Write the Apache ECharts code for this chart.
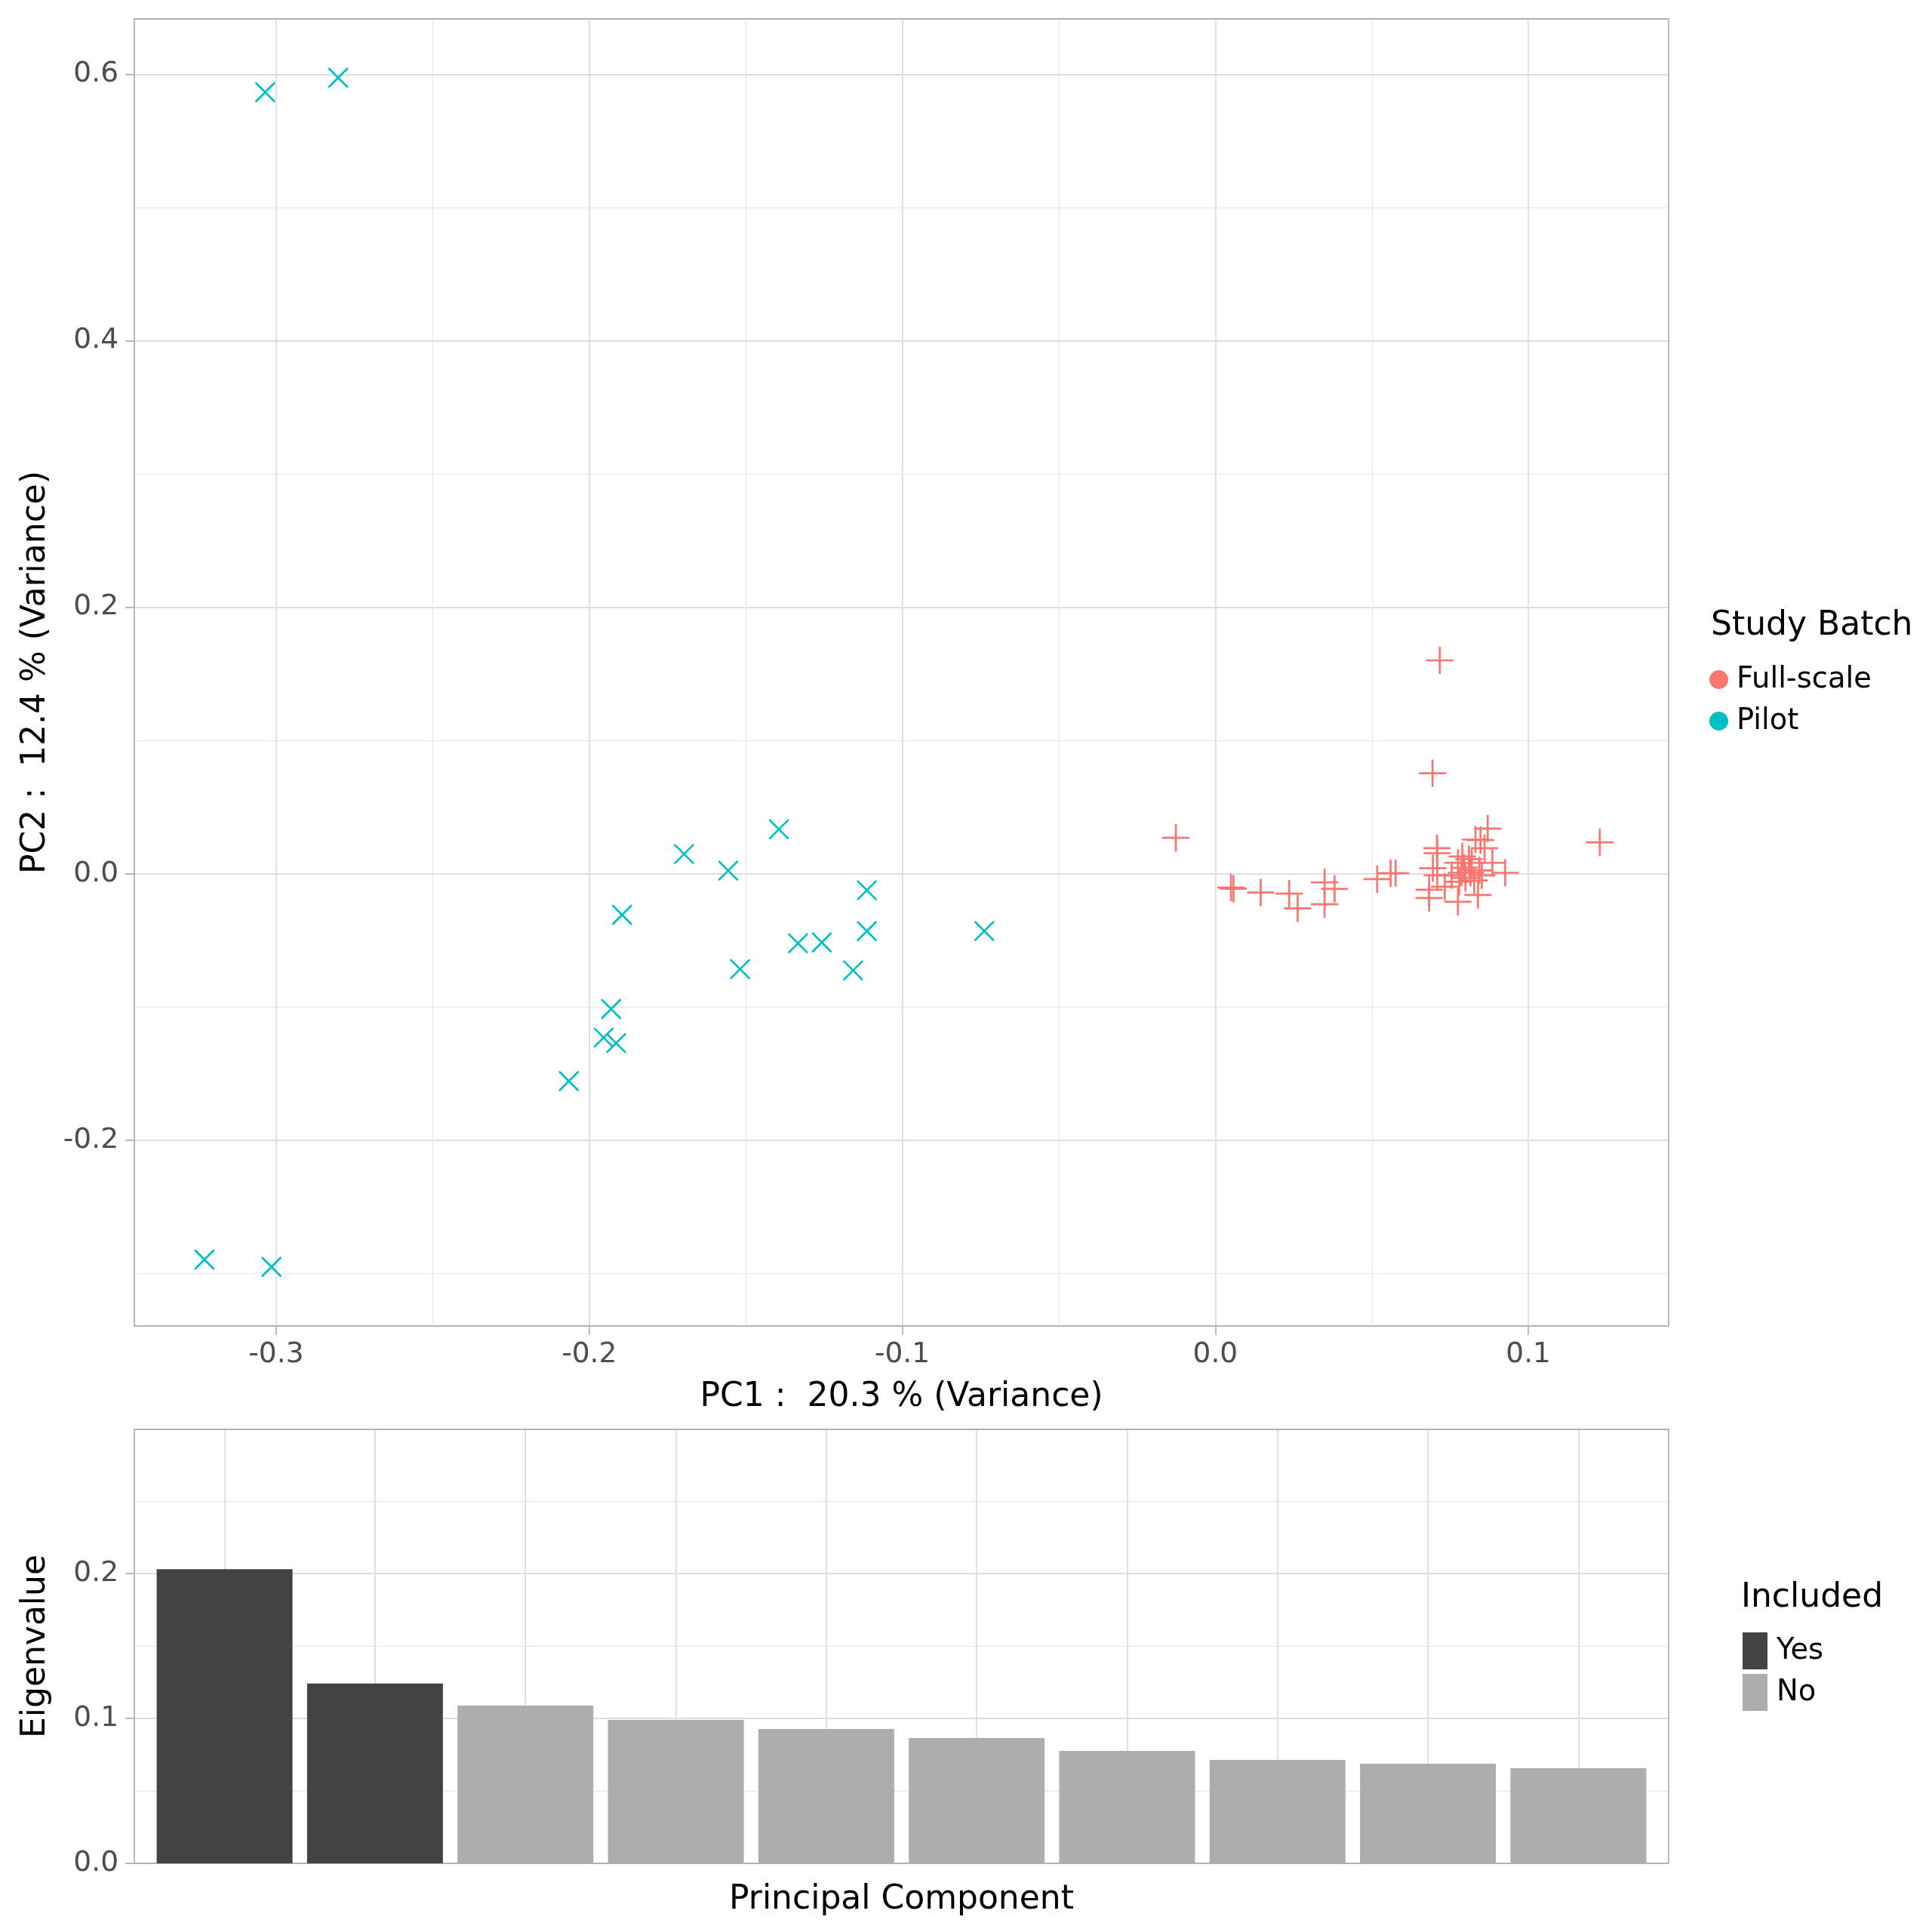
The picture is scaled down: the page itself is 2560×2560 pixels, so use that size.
<!DOCTYPE html>
<html>
<head>
<meta charset="utf-8">
<title>PCA</title>
<script src="https://cdn.jsdelivr.net/npm/echarts@6/dist/echarts.min.js"></script>
<style>
  html, body { margin: 0; padding: 0; background: #fff; }
  #chart { width: 2560px; height: 2560px; }
</style>
</head>
<body>
<div id="chart"></div>
<script>
// ---------- data ----------
const pilotPC1 = [-0.3035, -0.2802, -0.3229, -0.3015, -0.2065, -0.1930, -0.1954, -0.1914, -0.1895, -0.1697,
  -0.1556, -0.1394, -0.1518, -0.1333, -0.1257, -0.1157, -0.1113, -0.1113, -0.0738]
const pilotPC2 = [0.5865, 0.5974, -0.2895, -0.2950, -0.1555, -0.1014, -0.1229, -0.1270, -0.0308, 0.0149,
  0.0024, 0.0334, -0.0715, -0.0521, -0.0515, -0.0725, -0.0123, -0.0430, -0.0429]

const fullPC1 = [-0.0126, 0.1228, 0.0050, 0.0058, 0.0145, 0.0236, 0.0263, 0.0349, 0.0349, 0.0381,
  0.0517, 0.0560, 0.0576, 0.0717, 0.0694,
  0.0870, 0.0831, 0.0847, 0.0860, 0.0708, 0.0709, 0.0789, 0.0885, 0.0926, 0.0695,
  0.0709, 0.0683, 0.0683, 0.0775, 0.0839, 0.0733, 0.0779, 0.0775, 0.0795, 0.0815,
  0.0843, 0.0755, 0.0799, 0.0827, 0.0851, 0.0786, 0.0819, 0.0810]
const fullPC2 = [0.0270, 0.0236, -0.0103, -0.0112, -0.0140, -0.0149, -0.0259, -0.0064, -0.0228, -0.0113,
  -0.0040, 0.0004, 0.0005, 0.1602, 0.0755,
  0.0340, 0.0257, 0.0253, 0.0193, 0.0193, 0.0155, 0.0130, 0.0083, 0.0008, 0.0042,
  -0.0011, -0.0119, -0.0181, -0.0210, -0.0159, -0.0096, -0.0059, 0.0083, 0.0045, 0.0008,
  0.0026, -0.0011, -0.0030, -0.0049, -0.0011, 0.0008, 0.0083, 0.0111]

const pcIndex = [1, 2, 3, 4, 5, 6, 7, 8, 9, 10]
const eigenvalues = [0.203, 0.124, 0.1088, 0.0989, 0.0927, 0.0864, 0.0776, 0.0713, 0.0687, 0.0656]
const included = ['Yes', 'Yes', 'No', 'No', 'No', 'No', 'No', 'No', 'No', 'No']

const pc1Ticks = [-0.3, -0.2, -0.1, 0.0, 0.1]
const pc1Minor = [-0.25, -0.15, -0.05, 0.05]
const pc2Ticks = [-0.2, 0.0, 0.2, 0.4, 0.6]
const pc2Minor = [-0.3, -0.1, 0.1, 0.3, 0.5]
const eigTicks = [0.0, 0.1, 0.2]
const eigMinor = [0.05, 0.15, 0.25]

// ---------- style ----------
const FONT = 'DejaVu Sans'
const RED = '#F8766D'
const CYAN = '#00BFC4'
const BORDER = '#b3b3b3'
const GRID_MAJOR = '#dedede'
const GRID_MINOR = '#e6e6e6'

const PLUS = 'path://M0,5L10,5M5,0L5,10'
const CROSS = 'path://M0,0L10,10M10,0L0,10'

const zip = (a, b) => a.map((v, i) => [v, b[i]])

const barsFor = key => pcIndex
  .map((pc, i) => [pc, eigenvalues[i], included[i]])
  .filter(d => d[2] === key)
  .map(d => [d[0], d[1]])

const labelStyle = { color: '#4d4d4d', fontSize: 37.5, fontFamily: FONT }
const nameStyle = { color: '#000', fontSize: 44, fontFamily: FONT }
const tickStyle = { show: true, length: 12, lineStyle: { color: BORDER, width: 1.8 } }
const frame = { show: true, onZero: false, lineStyle: { color: BORDER, width: 1.8 } }
const legendTitle = { color: '#000', fontSize: 44, fontWeight: 'normal', fontFamily: FONT }

// major axis (visible ticks, labels, frame side)
const majorAxis = (extra) => Object.assign({
  type: 'value',
  axisLine: frame,
  splitLine: { show: true, lineStyle: { color: GRID_MAJOR, width: 1.8 } },
  nameTextStyle: nameStyle,
  nameLocation: 'middle'
}, extra)

// minor axis (opposite side: frame side + minor grid lines)
const minorAxis = (extra, values) => Object.assign({
  type: 'value',
  axisLine: frame,
  axisLabel: { show: false },
  axisTick: { show: false, customValues: values },
  splitLine: { show: true, lineStyle: { color: GRID_MINOR, width: 1 } }
}, extra)

const option = {
  animation: false,
  backgroundColor: '#fff',
  textStyle: { fontFamily: FONT },
  title: [
    { text: 'Study Batch', left: 2267, top: 808, padding: 0, textStyle: legendTitle },
    { text: 'Included', left: 2307, top: 2096, padding: 0, textStyle: legendTitle }
  ],
  legend: [
    {
      orient: 'vertical',
      left: 2265,
      top: 881,
      padding: 0,
      itemWidth: 37,
      itemHeight: 25,
      itemGap: 16,
      textStyle: { color: '#000', fontSize: 38.5, fontFamily: FONT },
      data: [
        { name: 'Full-scale', icon: 'circle', itemStyle: { color: RED, borderWidth: 0, opacity: 1 } },
        { name: 'Pilot', icon: 'circle', itemStyle: { color: CYAN, borderWidth: 0, opacity: 1 } }
      ]
    },
    {
      orient: 'vertical',
      left: 2309,
      top: 2163,
      padding: 0,
      itemWidth: 33,
      itemHeight: 49,
      itemGap: 6,
      icon: 'rect',
      textStyle: { color: '#000', fontSize: 38.5, fontFamily: FONT, padding: [0, 0, 0, 7] },
      data: ['Yes', 'No']
    }
  ],
  grid: [
    { left: 178, top: 25, width: 2033, height: 1732 },
    { left: 178, top: 1894, width: 2033, height: 575 }
  ],
  xAxis: [
    majorAxis({
      gridIndex: 0, position: 'bottom', min: -0.3453, max: 0.1448,
      name: 'PC1 :  20.3 % (Variance)', nameGap: 73,
      axisTick: Object.assign({ customValues: pc1Ticks }, tickStyle),
      axisLabel: Object.assign({ customValues: pc1Ticks, margin: 19, formatter: v => v.toFixed(1) }, labelStyle)
    }),
    minorAxis({ gridIndex: 0, position: 'top', min: -0.3453, max: 0.1448 }, pc1Minor),
    majorAxis({
      gridIndex: 1, position: 'bottom', min: 0.4, max: 10.6,
      name: 'Principal Component', nameGap: 27,
      axisTick: { show: false, customValues: pcIndex },
      axisLabel: { show: false }
    }),
    minorAxis({ gridIndex: 1, position: 'top', min: 0.4, max: 10.6, splitLine: { show: false } }, pcIndex)
  ],
  yAxis: [
    majorAxis({
      gridIndex: 0, position: 'left', min: -0.3393, max: 0.6416,
      name: 'PC2 :  12.4 % (Variance)', nameGap: 108,
      axisTick: Object.assign({ customValues: pc2Ticks }, tickStyle),
      axisLabel: Object.assign({ customValues: pc2Ticks, margin: 21, formatter: v => v.toFixed(1) }, labelStyle)
    }),
    minorAxis({ gridIndex: 0, position: 'right', min: -0.3393, max: 0.6416 }, pc2Minor),
    majorAxis({
      gridIndex: 1, position: 'left', min: 0, max: 0.2994,
      name: 'Eigenvalue', nameGap: 108,
      axisTick: Object.assign({ customValues: eigTicks }, tickStyle),
      axisLabel: Object.assign({ customValues: eigTicks, margin: 21, formatter: v => v.toFixed(1) }, labelStyle)
    }),
    minorAxis({ gridIndex: 1, position: 'right', min: 0, max: 0.2994 }, eigMinor)
  ],
  series: [
    {
      name: 'Full-scale',
      type: 'scatter',
      xAxisIndex: 0,
      yAxisIndex: 0,
      symbol: PLUS,
      symbolSize: 34,
      itemStyle: { color: 'rgba(0,0,0,0)', borderColor: RED, borderWidth: 2.7, borderCap: 'round', opacity: 1 },
      data: zip(fullPC1, fullPC2)
    },
    {
      name: 'Pilot',
      type: 'scatter',
      xAxisIndex: 0,
      yAxisIndex: 0,
      symbol: CROSS,
      symbolSize: 24,
      itemStyle: { color: 'rgba(0,0,0,0)', borderColor: CYAN, borderWidth: 2.7, borderCap: 'round', opacity: 1 },
      data: zip(pilotPC1, pilotPC2)
    },
    {
      name: 'Yes',
      type: 'bar',
      xAxisIndex: 2,
      yAxisIndex: 2,
      barWidth: 180,
      barGap: '-100%',
      itemStyle: { color: '#434343' },
      data: barsFor('Yes')
    },
    {
      name: 'No',
      type: 'bar',
      xAxisIndex: 2,
      yAxisIndex: 2,
      barWidth: 180,
      barGap: '-100%',
      itemStyle: { color: '#adadad' },
      data: barsFor('No')
    }
  ]
}

const myChart = echarts.init(document.getElementById('chart'), null, { renderer: 'canvas' })
myChart.setOption(option)
</script>
</body>
</html>
